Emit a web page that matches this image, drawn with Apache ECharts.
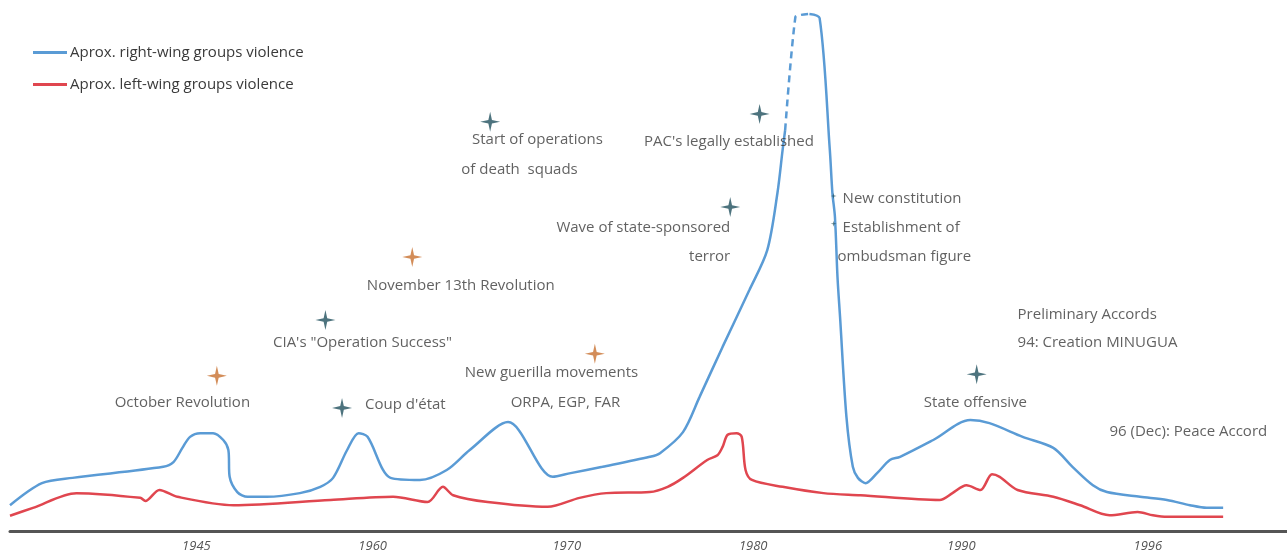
<!DOCTYPE html>
<html>
<head>
<meta charset="utf-8">
<script src="https://cdn.jsdelivr.net/npm/echarts@6/dist/echarts.min.js"></script>
<style>
  html, body { margin: 0; padding: 0; background: #fff; }
  #chart { width: 1287px; height: 555px; }
</style>
</head>
<body>
<div id="chart"></div>
<script>
// timeline position (0-100) and approx. violence level (0-100)
const tickPositions = [14.6, 28.4, 43.6, 58.2, 74.5, 89.1];
const tickLabels = ['1945', '1960', '1970', '1980', '1990', '1996'];

const rightWing = [
  [0, 4.9], [2.5, 9.1], [4.9, 10.1], [12.0, 12.2], [12.8, 13.1], [13.5, 15.8],
  [14.1, 17.9], [14.9, 18.6], [15.9, 18.6], [16.7, 17.3], [17.1, 15.4], [17.2, 10.3],
  [17.8, 7.4], [18.6, 6.5], [20.1, 6.5], [22.7, 7.2], [24.3, 8.4], [25.3, 10.1],
  [26.4, 15.4], [27.3, 18.6], [28.0, 17.9], [29.8, 10.1], [32.1, 9.7], [34.2, 11.6],
  [36.0, 15.4], [39.0, 20.7], [42.5, 10.3], [43.9, 11.0], [46.4, 12.2], [50.1, 14.1],
  [50.9, 14.8], [52.7, 18.8], [54.0, 25.5], [55.8, 35.0], [57.9, 45.8], [59.3, 53.4],
  [60.1, 64.3], [60.5, 72.4], [60.7, 76.2],
  [61.6, '-'],
  [62.6, 98.3], [63.4, 97.5], [64.2, 72.4], [64.4, 64.3], [64.6, 59.7], [64.8, 48.3],
  [65.0, 40.7], [65.5, 21.7], [66.0, 12.2], [66.4, 10.1], [67.0, 9.1], [67.9, 11.0],
  [68.9, 13.5], [69.7, 14.1], [72.3, 17.3], [75.2, 21.1], [76.7, 20.5], [79.3, 17.9],
  [81.7, 15.8], [83.2, 12.2], [84.8, 8.7], [85.9, 7.4], [88.5, 6.5], [90.6, 5.9],
  [92.4, 4.9], [93.7, 4.4], [95.0, 4.4]
];
// uncertain stretch of the right-wing peak (drawn dashed)
const rightWingEstimate = [[60.7, 76.2], [61.5, 97.7], [61.9, 98.1], [62.6, 98.3]];

const leftWing = [
  [0, 2.9], [1.8, 4.4], [5.2, 7.2], [10.2, 6.3], [10.6, 5.7], [11.7, 7.8], [13.1, 6.5],
  [17.5, 4.9], [25.1, 5.9], [30.0, 6.5], [32.7, 5.5], [33.9, 8.4], [34.7, 6.8],
  [37.4, 5.5], [42.1, 4.6], [44.6, 6.3], [46.7, 7.2], [50.1, 7.4], [51.5, 8.4],
  [52.7, 10.1], [54.6, 13.5], [55.4, 14.4], [55.8, 16.0], [56.2, 18.3], [56.9, 18.6],
  [57.3, 17.9], [57.6, 11.6], [58.1, 9.7], [60.5, 8.4], [63.7, 7.2], [66.6, 6.8],
  [72.8, 5.9], [73.8, 7.2], [74.9, 8.7], [76.0, 7.8], [76.9, 10.8], [77.5, 10.3],
  [78.9, 7.8], [81.7, 6.5], [83.8, 4.9], [86.1, 3.0], [88.3, 3.6], [89.5, 3.0],
  [90.6, 2.7], [95.0, 2.7]
];

// event markers
const leftEvents = [[16.2, 29.5], [31.5, 52.1], [45.8, 33.7]];
const rightEvents = [[26.0, 23.4], [24.7, 40.1], [37.6, 77.8], [58.7, 79.3], [56.4, 61.6], [75.7, 29.8]];
const minorEvents = [[64.5, 63.7], [64.5, 58.4]];

// event notes: [x, y, text, align]
const notes = [
  [13.5, 24.3, 'October Revolution', 'center'],
  [27.8, 24.0, 'Coup d\'état', 'left'],
  [27.6, 35.7, 'CIA\'s "Operation Success"', 'center'],
  [35.3, 46.6, 'November 13th Revolution', 'center'],
  [42.4, 30.0, 'New guerilla movements', 'center'],
  [43.5, 24.3, 'ORPA, EGP, FAR', 'center'],
  [41.3, 74.3, 'Start of operations', 'center'],
  [39.9, 68.6, 'of death  squads', 'center'],
  [56.3, 74.0, 'PAC\'s legally established', 'center'],
  [56.4, 57.6, 'Wave of state-sponsored', 'right'],
  [56.4, 52.1, 'terror', 'right'],
  [65.2, 63.1, 'New constitution', 'left'],
  [65.2, 57.6, 'Establishment of', 'left'],
  [64.8, 52.1, 'ombudsman figure', 'left'],
  [75.6, 24.3, 'State offensive', 'center'],
  [78.9, 41.1, 'Preliminary Accords', 'left'],
  [78.9, 35.7, '94: Creation MINUGUA', 'left'],
  [86.1, 18.8, '96 (Dec): Peace Accord', 'left']
];

const BLUE = '#5a9bd5';
const RED = '#e0464f';
const ORANGE = '#c8712f';
const TEAL = '#21505e';
const FONT = '"Open Sans", "Liberation Sans", sans-serif';
const STAR = 'path://M0,-10 L1.8,-1.8 L10,0 L1.8,1.8 L0,10 L-1.8,1.8 L-10,0 L-1.8,-1.8 Z';

const chart = echarts.init(document.getElementById('chart'), null, { renderer: 'canvas' });

function starSeries(data, color, size) {
  return {
    type: 'scatter',
    data: data,
    symbol: STAR,
    symbolSize: size,
    itemStyle: { color: color },
    silent: true,
    z: 4
  };
}

chart.setOption({
  animation: false,
  backgroundColor: '#ffffff',
  textStyle: { fontFamily: FONT },
  grid: { left: 10, right: 0, top: 5, bottom: 24 },
  legend: {
    data: ['Aprox. right-wing groups violence', 'Aprox. left-wing groups violence'],
    orient: 'vertical',
    left: 28,
    top: 40,
    itemGap: 17,
    itemWidth: 34,
    itemHeight: 3,
    icon: 'rect',
    textStyle: { fontSize: 15, color: '#3a3a3a', fontFamily: FONT, padding: [0, 0, 0, -2] }
  },
  xAxis: {
    type: 'value',
    min: 0,
    max: 100,
    splitLine: { show: false },
    axisLine: { lineStyle: { color: '#555', width: 3 } },
    axisTick: { show: false },
    axisLabel: {
      customValues: tickPositions,
      formatter: function (val) {
        let best = 0;
        tickPositions.forEach(function (p, i) {
          if (Math.abs(p - val) < Math.abs(tickPositions[best] - val)) best = i;
        });
        return tickLabels[best];
      },
      color: '#555',
      fontStyle: 'italic',
      fontSize: 13,
      margin: 9
    }
  },
  yAxis: {
    type: 'value',
    min: 0,
    max: 100,
    show: false
  },
  series: [
    {
      name: 'Aprox. right-wing groups violence',
      type: 'line',
      data: rightWing,
      smooth: 0.3,
      symbol: 'none',
      connectNulls: false,
      itemStyle: { color: BLUE },
      lineStyle: { color: BLUE, width: 2.5 },
      z: 3
    },
    {
      name: 'Aprox. right-wing groups violence',
      type: 'line',
      data: rightWingEstimate,
      smooth: 0.3,
      symbol: 'none',
      itemStyle: { color: BLUE },
      lineStyle: { color: BLUE, width: 2.5, type: [7, 5] },
      z: 3
    },
    {
      name: 'Aprox. left-wing groups violence',
      type: 'line',
      data: leftWing,
      smooth: 0.3,
      symbol: 'none',
      itemStyle: { color: RED },
      lineStyle: { color: RED, width: 2.5 },
      z: 3
    },
    starSeries(leftEvents, ORANGE, 20),
    starSeries(rightEvents, TEAL, 20),
    starSeries(minorEvents, TEAL, 6),
    {
      type: 'scatter',
      silent: true,
      symbolSize: 0,
      data: notes.map(function (n) {
        return {
          value: [n[0], n[1]],
          label: {
            show: true,
            position: [0, 0],
            formatter: n[2],
            align: n[3],
            verticalAlign: 'middle',
            color: '#3a3a3a',
            fontSize: 15,
            fontFamily: FONT
          }
        };
      }),
      z: 5
    }
  ]
});
</script>
</body>
</html>
